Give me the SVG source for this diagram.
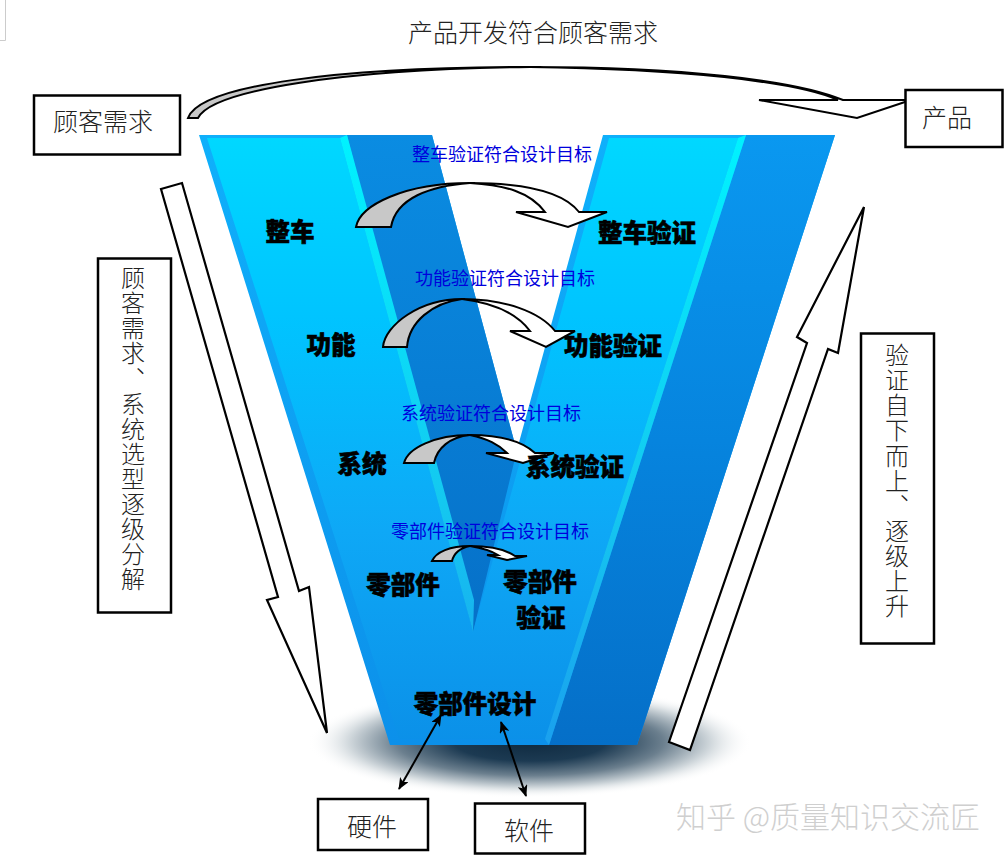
<svg xmlns="http://www.w3.org/2000/svg" width="1006" height="858" viewBox="0 0 1006 858">
<style>
text{font-family:"Noto Sans CJK SC","Noto Sans",sans-serif}
.box{fill:#fff;stroke:#000;stroke-width:2.5}
.t{font-size:25px;font-weight:300;fill:#222;text-anchor:middle}
.v{font-size:24px;font-weight:300;fill:#222;writing-mode:vertical-rl;text-orientation:upright;letter-spacing:1.1px}
.b{font-size:24.5px;font-weight:900;fill:#000;text-anchor:middle;stroke:#000;stroke-width:.6}
.g{font-size:18px;fill:#0000dc;text-anchor:middle}
.gr{fill:#c8c8c8;stroke:#000;stroke-width:2;stroke-linejoin:miter}
.wh{fill:#fff;stroke:#000;stroke-width:2;stroke-linejoin:miter}
.big{fill:#fff;stroke:#000;stroke-width:2.2;stroke-linejoin:miter}
.dbl{fill:none;stroke:#000;stroke-width:2;marker-start:url(#h);marker-end:url(#h)}
</style>
<defs>
<linearGradient id="lt" gradientUnits="userSpaceOnUse" x1="0" y1="135" x2="0" y2="745"><stop offset="0" stop-color="#00d8ff"/><stop offset=".3" stop-color="#00c4ff"/><stop offset=".65" stop-color="#0ea8f6"/><stop offset="1" stop-color="#0b90e8"/></linearGradient>
<linearGradient id="st" gradientUnits="userSpaceOnUse" x1="0" y1="135" x2="0" y2="745"><stop offset="0" stop-color="#0fb0fb"/><stop offset="1" stop-color="#0c90ea"/></linearGradient>
<linearGradient id="dk" gradientUnits="userSpaceOnUse" x1="0" y1="135" x2="0" y2="745"><stop offset="0" stop-color="#0a98f0"/><stop offset=".5" stop-color="#0684de"/><stop offset="1" stop-color="#056fc8"/></linearGradient>
<linearGradient id="dl" gradientUnits="userSpaceOnUse" x1="0" y1="135" x2="0" y2="632"><stop offset="0" stop-color="#0a8ce2"/><stop offset="1" stop-color="#0670c8"/></linearGradient>
<linearGradient id="cy" gradientUnits="userSpaceOnUse" x1="0" y1="135" x2="0" y2="745"><stop offset="0" stop-color="#00f2ff"/><stop offset=".6" stop-color="#14c8f0"/><stop offset="1" stop-color="#1aa0ee"/></linearGradient>
<radialGradient id="sh" cx=".5" cy=".5" r=".5"><stop offset="0" stop-color="#0f2a40"/><stop offset=".34" stop-color="#1c3a52"/><stop offset=".6" stop-color="#6b7f8e"/><stop offset=".82" stop-color="#d3dade"/><stop offset="1" stop-color="#fff" stop-opacity="0"/></radialGradient>
<marker id="h" viewBox="0 0 12 10" refX="11" refY="5" markerWidth="12" markerHeight="10" markerUnits="userSpaceOnUse" orient="auto-start-reverse"><path d="M0,0 L12,5 L0,10 L3,5 Z" fill="#000"/></marker>
</defs>

<path d="M0,40.500 H5.500 V0" fill="none" stroke="#ccc"/>

<g id="v-shape">
<ellipse cx="530" cy="742" rx="222" ry="56" fill="url(#sh)"/>
<path d="M199,135 H432 L516,448 L517.500,448 L603,135 H835 L637,745 H390 Z" fill="url(#st)"/>
<path d="M347,135 H432 L516,448 H517.500 L473,632 Z" fill="url(#dl)"/>
<path d="M207,138 H340 L473,632 L609,138 H738 L545,739 H399 Z" fill="url(#lt)"/>
<path d="M340,138 L347,135 L474,600 L473,632 Z" fill="url(#cy)"/>
<path d="M746,135 H835 L637,745 H549 Z" fill="url(#dk)"/>
<path d="M738,138 L746,135 L549,745 L545,739 Z" fill="url(#cy)"/>
</g>

<g id="connectors">
<g id="arrow-top"><path class="gr" d="M188,118 C200,85 340,67 530,67 C345,69 212,90 198,118 Z"/><path class="wh" d="M530,67 C680,67 795,80 843,100 H905 V102 L857,118 L759,100 H838 C795,81 680,69 530,67 Z"/></g>
<g id="arrow-1"><path class="gr" d="M356,227 C360,205 405,183 470,183 C430,186 396,198 391,227 Z"/><path class="wh" d="M470,183 C520,183 562,190 579,212 H607 L568,227 L516,212 H545 C530,192 505,185 470,183 Z"/></g>
<g id="arrow-2"><path class="gr" d="M383,347 C385,325 420,299 462,299 C432,303 409,322 407,347 Z"/><path class="wh" d="M462,299 C505,299 540,312 555,331 H575 L546,347 L510,331 H530 C518,315 495,303 462,299 Z"/></g>
<g id="arrow-3"><path class="gr" d="M404,463 C408,448 435,435 470,435 C450,437 437,448 434,463 Z"/><path class="wh" d="M470,435 C500,435 522,441 535,453 H554 L523,463 L486,453 H507 C498,444 488,439 470,435 Z"/></g>
<g id="arrow-4"><path class="gr" d="M432,561 C436,552 450,546 470,546 C460,548 454,553 452,561 Z"/><path class="wh" d="M470,546 C490,546 505,549 515,556 H527 L507,560 L487,555 H498 C490,550 482,548 470,546 Z"/></g>
<path id="arrow-down" class="big" d="M161,189 L182,183 L299,591 L309,587 L327,733 L267,600 L278,597 Z"/>
<path id="arrow-up" class="big" d="M669,742 L690,750 L828,349 L838,353 L864,207 L797,337 L807,343 Z"/>
<path id="link-hw" class="dbl" d="M441,715 L399,789"/>
<path id="link-sw" class="dbl" d="M501,722 L526,796"/>
</g>

<g id="title"><text class="t" x="533" y="42">产品开发符合顾客需求</text></g>
<g id="node-customer"><rect class="box" x="34" y="95.500" width="146" height="59"/><text class="t" x="103" y="131">顾客需求</text></g>
<g id="node-product"><rect class="box" x="905.500" y="90" width="97" height="57"/><text class="t" x="947" y="127">产品</text></g>
<g id="node-decompose"><rect class="box" x="98" y="258.500" width="73" height="354"/><text class="v" x="133" y="266">顾客需求、系统选型逐级分解</text></g>
<g id="node-verify"><rect class="box" x="861" y="333.500" width="73" height="310"/><text class="v" x="897" y="343">验证自下而上、逐级上升</text></g>
<g id="node-hw"><rect class="box" x="318" y="799" width="110" height="51"/><text class="t" x="372" y="836">硬件</text></g>
<g id="node-sw"><rect class="box" x="475" y="803.500" width="110" height="50"/><text class="t" x="529" y="840">软件</text></g>

<g id="goal-1"><text class="g" x="502" y="161">整车验证符合设计目标</text></g>
<g id="goal-2"><text class="g" x="505" y="285">功能验证符合设计目标</text></g>
<g id="goal-3"><text class="g" x="491" y="420">系统验证符合设计目标</text></g>
<g id="goal-4"><text class="g" x="490" y="538">零部件验证符合设计目标</text></g>

<g id="level-vehicle"><text class="b" x="290" y="241">整车</text></g>
<g id="level-vehicle-v"><text class="b" x="647" y="242">整车验证</text></g>
<g id="level-function"><text class="b" x="331" y="354">功能</text></g>
<g id="level-function-v"><text class="b" x="613" y="355">功能验证</text></g>
<g id="level-system"><text class="b" x="362" y="473">系统</text></g>
<g id="level-system-v"><text class="b" x="575" y="476">系统验证</text></g>
<g id="level-part"><text class="b" x="403" y="594">零部件</text></g>
<g id="level-part-v"><text class="b" x="540" y="591">零部件</text><text class="b" x="541" y="627">验证</text></g>
<g id="level-design"><text class="b" x="475" y="713">零部件设计</text></g>

<text x="828" y="828" font-size="30" font-weight="300" fill="#cfcfcf" text-anchor="middle" id="watermark">知乎 @质量知识交流匠</text>
</svg>
